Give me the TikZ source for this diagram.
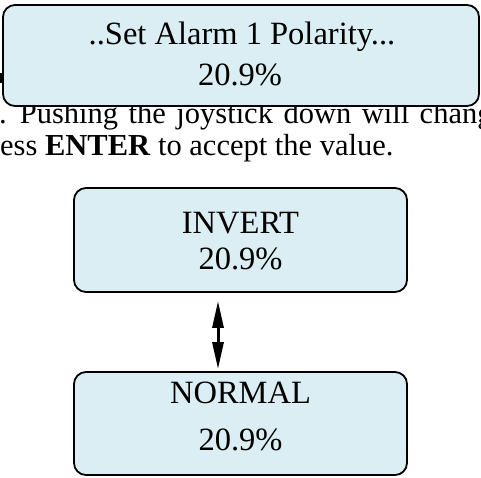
\documentclass[tikz,border=0pt]{standalone}
\usepackage{fontspec}
\setmainfont{Liberation Serif}
\usetikzlibrary{arrows.meta}
\definecolor{boxfill}{HTML}{DAEEF3}
\tikzset{
  panel/.style={draw=black, line width=1.8pt, fill=boxfill, rounded corners=12pt, inner sep=0pt},
  lbl/.style={anchor=base, inner sep=0pt, font=\fontsize{32.5}{36}\selectfont},
  bodytext/.style={anchor=base west, inner sep=0pt, font=\fontsize{30.5}{32}\selectfont},
  dbl/.style={line width=3pt, {Triangle[length=27pt,width=11pt]}-{Triangle[length=27pt,width=11pt]}, shorten <=8pt, shorten >=2pt}
}
\begin{document}
\begin{tikzpicture}[x=1pt,y=-1pt]
\useasboundingbox (0,0) rectangle (481,477);
\clip (0,0) rectangle (481,477);
% background paragraph text
\node[bodytext] (p1) at (-1,123) {\spaceskip=10.5pt plus 1pt . Pushing the joystick down will change};
\node[bodytext] (p2) at (0,155) {ess \textbf{ENTER} to accept the value.};
\fill[black] (0,73) rectangle (2.5,83);
% top box
\node[panel, minimum width=476pt, minimum height=101pt] (top) at (241,55.5) {};
\node[lbl] (t1) at (242,44) {..Set Alarm 1 Polarity...};
\node[lbl] (t2) at (240,85) {20.9\%};
% invert box
\node[panel, minimum width=333pt, minimum height=104pt] (inv) at (240.5,240) {};
\node[lbl] (i1) at (240.5,233) {INVERT};
\node[lbl] (i2) at (240.5,269) {20.9\%};
% normal box
\node[panel, minimum width=333pt, minimum height=103pt] (nor) at (240.5,423.5) {};
\node[lbl] (n1) at (240.5,403) {NORMAL};
\node[lbl] (n2) at (240.5,450) {20.9\%};
% arrow
\draw[dbl] ([xshift=-22.5pt]inv.south) -- ([xshift=-22.5pt]nor.north);
\end{tikzpicture}
\end{document}
